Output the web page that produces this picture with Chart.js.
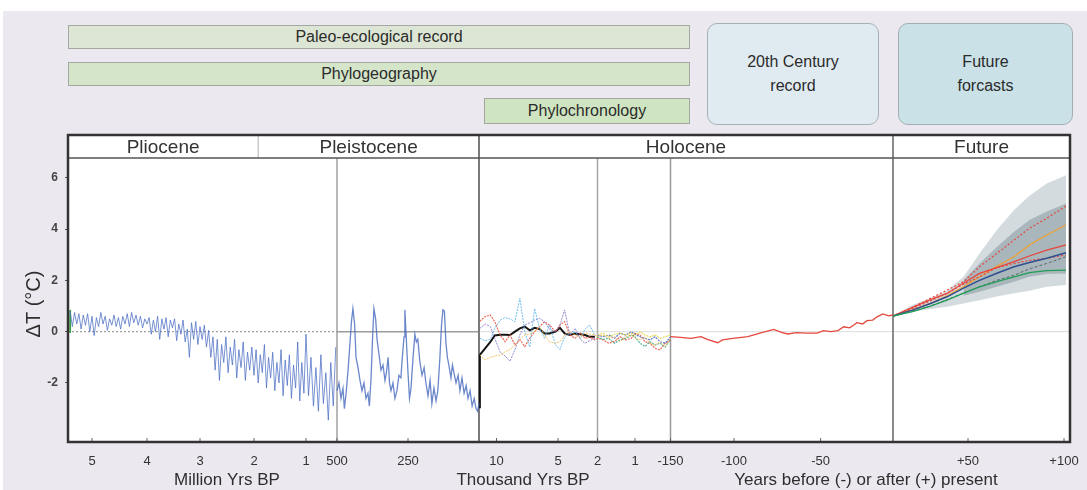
<!DOCTYPE html>
<html><head><meta charset="utf-8">
<script src="https://cdn.jsdelivr.net/npm/chart.js@4.4.1/dist/chart.umd.min.js"></script>
<style>
html,body{margin:0;padding:0;background:#fff;width:1087px;height:490px;overflow:hidden;font-family:"Liberation Sans",Arial,Helvetica,sans-serif;}
#bg{position:absolute;left:3px;top:11px;width:1084px;height:479px;background:#ece8ef;}
#c{position:absolute;left:0;top:0;}
.box{position:absolute;box-sizing:border-box;border:1px solid #a3a9a2;color:#2b2b2b;font-size:16px;display:flex;align-items:center;justify-content:center;text-align:center;line-height:24px;}
</style></head>
<body>
<div id="bg"></div>
<canvas id="c" width="1087" height="490"></canvas>
<div class="box" style="left:68px;top:25px;width:622px;height:24px;background:#dde6d4;">Paleo-ecological record</div>
<div class="box" style="left:68px;top:62px;width:622px;height:24px;background:#d5e5ca;">Phylogeography</div>
<div class="box" style="left:484px;top:98px;width:206px;height:26px;background:#cfe5c1;">Phylochronology</div>
<div class="box" style="left:707px;top:23px;width:172px;height:102px;background:#dfeaf1;border:1.5px solid #a6b0b7;border-radius:10px;">20th Century<br>record</div>
<div class="box" style="left:898px;top:23px;width:175px;height:102px;background:#c9e1e7;border:1.5px solid #a3aeb3;border-radius:10px;">Future<br>forcasts</div>
<script>
// ---------------- DATA ----------------
// Pliocene–Pleistocene benthic stack (ages in Myr BP)
const blueMyrStart = 5.40, blueMyrStep = 0.04;
const blueMyrTemps = [
 0.8,0.2,0.75,0.3,0.7,0.1,0.65,0.25,0.7,0.0,0.6,-0.15,0.55,0.2,0.75,0.3,0.6,0.05,0.5,0.25,0.65,0.2,0.55,0.1,0.6,0.3,0.7,0.2,0.75,0.35,0.65,0.25,0.6,0.15,0.5,0.3,
 0.55,-0.1,0.45,0.0,0.6,-0.3,0.5,0.1,0.55,-0.2,0.45,0.15,0.5,-0.35,0.3,-0.1,0.45,-0.4,0.1,-1.0,0.35,-0.3,0.4,-0.5,0.2,
 -0.3,0.25,-0.6,0.05,-1.0,-0.2,-1.5,-0.3,-1.9,-0.5,-1.2,-0.2,-1.6,-0.6,-1.3,-0.3,-1.8,-0.7,-1.4,-0.4,-1.9,-0.8,-1.5,-0.6,-1.7,
 -0.7,-2.0,-0.9,-1.6,-0.5,-2.2,-1.0,-1.8,-0.8,-2.3,-1.2,-2.0,-0.7,-2.5,-1.1,-2.1,-0.9,-2.6,-1.3,-2.2,-0.4,-2.7,-1.2,-2.4,-0.1,
 -2.5,-1.0,-2.9,-1.4,-3.1,-0.9,-2.8,-1.6,-3.45,-1.2,-2.9,-0.6
];
// Late Pleistocene glacial cycles (ages in kyr BP)
const pleistAgesKyr = [500,493,486,479,474,468,461,454,449,444,438,433,426,419,412,405,398,391,386,380,375,370,364,359,352,345,338,331,326,320,315,310,303,296,289,282,275,270,264,261,255,250,245,240,233,227,222,217,210,203,196,190,183,176,170,163,156,150,143,138,133,128,123,118,113,106,101,96,89,82,76,69,62,55,49,42,35,28,22,17,12];
const pleistTemps = [-2.3,-2.0,-2.6,-2.2,-3.0,-2.4,-1.5,-0.4,0.4,0.9,0.3,-1.0,-1.4,-1.9,-2.3,-2.0,-2.6,-2.4,-2.9,-1.8,-0.3,0.9,0.5,-0.3,-0.9,-1.5,-1.3,-1.9,-1.6,-1.0,-2.0,-2.3,-2.0,-2.6,-2.3,-1.7,-1.8,-1.0,-0.2,0.85,-0.5,-1.6,-2.6,-2.2,-1.0,-0.1,-0.4,-0.3,-1.2,-1.7,-1.4,-2.0,-2.5,-1.9,-2.8,-2.2,-2.7,-2.3,-1.0,0.2,0.85,0.8,-0.4,-1.0,-1.3,-1.8,-1.3,-1.6,-2.0,-1.7,-2.3,-1.8,-2.4,-2.1,-2.6,-2.3,-2.9,-2.6,-3.0,-3.1,-2.8];
// Holocene proxy records (ages in kyr BP)
const holoEarlyAges = [11.9,11.3,10.7,10.2,9.7,9.3,8.9,8.5,8.1,7.7,7.3,6.9,6.5,6.1,5.7,5.2,4.85,4.5,4.1,3.7,3.3,2.95,2.6,2.2];
const holoLateAges = [2.0,1.85,1.7,1.55,1.4,1.25,1.1,1.0,0.88,0.76,0.64,0.52,0.40,0.28,0.15];
const proxyRed = [0.4,0.59,0.65,0.39,-0.13,-0.39,-0.13,-0.52,-0.32,-0.58,-0.26,0.0,0.2,0.39,0.26,0.0,0.26,0.39,-0.13,-0.26,-0.06,-0.26,-0.2,-0.32,
 -0.26,-0.32,-0.45,-0.39,-0.2,-0.32,-0.26,-0.06,-0.13,-0.39,-0.45,-0.65,-0.71,-0.45,-0.32];
const proxyOrange = [-0.91,-1.1,-1.0,-0.95,-0.91,-0.78,-0.7,-0.52,-0.3,-0.13,-0.1,0.0,0.2,-0.13,-0.39,-0.45,-0.39,-0.13,0.0,-0.13,-0.2,-0.06,-0.1,-0.13,
 -0.2,-0.13,-0.26,-0.2,-0.39,-0.2,-0.13,-0.26,-0.32,-0.2,-0.45,-0.52,-0.39,-0.58,-0.26];
const proxyCyan = [-0.26,-0.35,-0.3,0.13,0.45,0.55,0.5,0.39,1.3,0.0,-0.6,0.9,0.13,-0.26,0.26,-0.52,-0.7,-0.2,-0.06,0.0,-0.26,0.1,0.26,-0.13];
const proxyPurple = [0.13,0.3,0.2,-0.26,-0.8,-0.95,-1.15,-0.7,-0.13,0.26,0.35,0.45,0.52,0.39,0.1,0.0,0.26,0.85,-0.13,0.13,-0.3,-0.45,-0.35,-0.26];
const proxyYellow = [-0.13,-0.06,-0.2,-0.1,-0.06,-0.13,-0.06,-0.13,0.0,-0.13,-0.2,-0.13,-0.26,-0.2,-0.13];
const proxyTeal = [-0.2,-0.3,-0.26,-0.45,-0.32,-0.26,-0.13,-0.2,-0.45,-0.58,-0.39,-0.52,-0.45,-0.6,-0.3];
const proxyBlue = [-0.13,-0.2,-0.13,-0.26,-0.06,-0.13,0.0,-0.1,-0.2,-0.26,-0.32,-0.2,-0.39,-0.45,-0.2];
const meanAges = [12.0,11.9,11.3,10.7,10.2,9.7,9.3,8.9,8.5,8.1,7.7,7.3,6.9,6.5,6.1,5.7,5.2,4.85,4.5,4.1,3.7,3.3,2.95,2.6,2.2];
const meanTemps = [-2.95,-0.9,-0.65,-0.4,-0.15,-0.12,-0.12,-0.13,0.0,0.13,0.2,0.05,0.15,0.1,-0.07,-0.07,0.0,0.15,-0.07,-0.13,-0.07,-0.1,-0.13,-0.2,-0.2];
// Instrumental record (years relative to present)
const instrYears = [-150,-142,-134,-126,-121,-113,-109,-101,-92,-85,-77,-73,-69,-64,-58,-52,-48,-43,-38,-34,-30,-27,-25,-21,-18,-14,-11,-7,-3,0];
const instrTemps = [-0.19,-0.22,-0.26,-0.19,-0.3,-0.43,-0.32,-0.26,-0.19,-0.06,0.09,-0.02,-0.09,-0.04,-0.06,-0.06,0.04,0.0,0.04,0.19,0.15,0.26,0.35,0.3,0.43,0.45,0.58,0.69,0.62,0.65];
// Future projections (years after present)
const futYears = [0,13,25,36,47,56,65,74,82,91,101];
const futRedHigh = [0.61,0.95,1.3,1.62,1.95,2.53,3.05,3.57,4.03,4.42,4.9];
const futOrange = [0.61,0.85,1.1,1.4,1.75,2.14,2.55,2.92,3.38,3.77,4.16];
const futRedMid = [0.61,0.95,1.25,1.49,1.9,2.27,2.5,2.73,2.95,3.18,3.38];
const futRedLow = [0.61,0.9,1.2,1.5,1.85,2.14,2.5,2.66,2.78,2.86,2.99];
const futBlue = [0.61,0.84,1.1,1.36,1.7,2.0,2.28,2.53,2.7,2.86,3.08];
const futGrey = [0.61,0.8,1.0,1.25,1.5,1.75,2.0,2.2,2.45,2.66,2.92];
const futGreen = [0.61,0.78,1.0,1.23,1.5,1.75,1.95,2.14,2.3,2.38,2.4];
const outerHigh = [0.61,1.04,1.3,1.6,2.14,3.05,3.96,4.74,5.3,5.78,6.1];
const outerLow = [0.61,0.78,0.88,0.97,1.1,1.23,1.37,1.5,1.6,1.75,1.82];
const innerYears = [47,56,65,74,82,91,101];
const innerHigh = [2.0,2.66,3.3,3.9,4.35,4.68,5.0];
const innerLow = [1.4,1.56,1.75,1.95,2.14,2.25,2.27];
// Tick labels
const myrTicks = [5,4,3,2,1];
const kyrTicks = [500,250,10,5,2,1];
const yrTicks = [-150,-100,-50,50,100];
const yTicks = [6,4,2,0,-2];

// ---------------- BROKEN-AXIS LAYOUT (axis units) ----------------
const myrAnchors = [5.44,5,4,3,2,1,0.5],  myrPos = [0,24,79,132,186,238,269];
const kyrAnchors = [500,250,12,10,5,2,1,0.15], kyrPos = [269,340,411,428.5,490,529.5,567,602.5];
const yrAnchors = [-150,-100,-50,0,50,100,103], yrPos = [602.5,666,752.6,825,900,996,1002];
function interp(v, xs, ys){
  for(let i=0;i<xs.length-1;i++){
    const a=xs[i], b=xs[i+1];
    if((v>=Math.min(a,b) && v<=Math.max(a,b)) || i===xs.length-2){
      return ys[i] + (v-a)/(b-a)*(ys[i+1]-ys[i]);
    }
  }
}
const posMyr = v => interp(v, myrAnchors, myrPos);
const posKyr = v => interp(v, kyrAnchors, kyrPos);
const posYr  = v => interp(v, yrAnchors, yrPos);
const pts = (ages, vals, f) => vals.map((v,i)=>({x:f(ages[i]), y:v}));

const blueMyrAges = blueMyrTemps.map((_,i)=>+(blueMyrStart - i*blueMyrStep).toFixed(2));

const tickPos = [], tickLab = [];
myrTicks.forEach(v=>{tickPos.push(posMyr(v)); tickLab.push(String(v));});
kyrTicks.forEach(v=>{tickPos.push(posKyr(v)); tickLab.push(String(v));});
yrTicks.forEach(v=>{tickPos.push(posYr(v)); tickLab.push(v>0?'+'+v:String(v));});

const FONT = '"Liberation Sans", Arial, Helvetica, sans-serif';
Chart.defaults.font.family = FONT;

function line(data, color, w, dash, order){
  return {data, borderColor:color, borderWidth:w, borderDash:dash||[], pointRadius:0, fill:false, tension:0, order:order||0};
}

const datasets = [
  {data:pts(futYears,outerHigh,posYr), borderWidth:0, pointRadius:0, fill:1, backgroundColor:'#d3dbde', order:10},
  {data:pts(futYears,outerLow,posYr), borderWidth:0, pointRadius:0, fill:false, order:10},
  {data:pts(innerYears,innerHigh,posYr), borderWidth:0, pointRadius:0, fill:3, backgroundColor:'#a9b7bc', order:9},
  {data:pts(innerYears,innerLow,posYr), borderWidth:0, pointRadius:0, fill:false, order:9},
  line(pts(blueMyrAges, blueMyrTemps, posMyr), 'rgba(75,110,195,0.75)', 1),
  line(pts(pleistAgesKyr, pleistTemps, posKyr), 'rgba(70,105,190,0.8)', 1.3),
  line([{x:posMyr(5.40),y:-0.05},{x:posMyr(5.40),y:0.85}], '#3fa14a', 1.8),
  line(pts(holoEarlyAges.concat(holoLateAges), proxyOrange, posKyr), 'rgba(245,185,80,0.85)', 1, [2,1]),
  line(pts(holoEarlyAges, proxyCyan, posKyr), 'rgba(90,180,235,0.85)', 1, [2,1]),
  line(pts(holoEarlyAges, proxyPurple, posKyr), 'rgba(120,110,200,0.8)', 1, [2,1]),
  line(pts(holoLateAges, proxyYellow, posKyr), 'rgba(225,215,70,0.9)', 1.2, [2,1]),
  line(pts(holoLateAges, proxyTeal, posKyr), 'rgba(60,170,140,0.85)', 1.2, [2,1]),
  line(pts(holoLateAges, proxyBlue, posKyr), 'rgba(60,90,200,0.8)', 1.2, [2,1]),
  line(pts(holoEarlyAges.concat(holoLateAges), proxyRed, posKyr), 'rgba(235,80,60,0.85)', 1.2, [2,1]),
  line(pts(meanAges, meanTemps, posKyr), '#151515', 2),
  line(pts(instrYears, instrTemps, posYr), '#e5483e', 1.3),
  line(pts(futYears, futGreen, posYr), '#1f9d55', 1.3),
  line(pts(futYears, futGrey, posYr), '#606870', 1, [3,2]),
  line(pts(futYears, futBlue, posYr), '#2f4f8f', 1.5),
  line(pts(futYears, futRedLow, posYr), '#e8453c', 1.2, [2,2]),
  line(pts(futYears, futRedMid, posYr), '#e8453c', 1.3),
  line(pts(futYears, futOrange, posYr), '#f0a030', 1.3),
  line(pts(futYears, futRedHigh, posYr), '#e8453c', 1.2, [2,2]),
];

const HEADER_TOP = 135;
const decor = {
  id:'decor',
  beforeDraw(chart){
    const c=chart.ctx, a=chart.chartArea;
    c.save(); c.fillStyle='#fff'; c.fillRect(a.left, HEADER_TOP, a.right-a.left, a.bottom-HEADER_TOP); c.restore();
  },
  beforeDatasetsDraw(chart){
    const c=chart.ctx, a=chart.chartArea, xs=chart.scales.x, ys=chart.scales.y;
    const X=v=>xs.getPixelForValue(v), y0=ys.getPixelForValue(0);
    c.save();
    const hseg=(p1,p2,col,w,dash)=>{c.beginPath();c.setLineDash(dash||[]);c.strokeStyle=col;c.lineWidth=w;c.moveTo(X(p1),y0);c.lineTo(X(p2),y0);c.stroke();};
    hseg(posMyr(5.44), posMyr(0.5), '#8a8a8a', 1, [2,2]);
    hseg(posKyr(500), posKyr(12), '#9c9c9c', 1.5);
    hseg(posKyr(12), posYr(0), '#dcdcdc', 1);
    hseg(posYr(0), posYr(103), '#d8d8d8', 1);
    c.setLineDash([]);
    const vline=(p,top,col,w)=>{c.beginPath();c.strokeStyle=col;c.lineWidth=w;c.moveTo(X(p),top);c.lineTo(X(p),a.bottom);c.stroke();};
    vline(posMyr(0.5), a.top, '#a0a0a0', 1.5);
    vline(posKyr(2), a.top, '#a8a8a8', 1.5);
    vline(posKyr(0.15), a.top, '#999', 1.5);
    vline(posKyr(12), HEADER_TOP, '#7a7a7a', 2);
    vline(posYr(0), HEADER_TOP, '#8a8a8a', 2);
    c.beginPath(); c.strokeStyle='#b0b0b0'; c.lineWidth=1; c.moveTo(X(posMyr(1.92)),HEADER_TOP); c.lineTo(X(posMyr(1.92)),a.top); c.stroke();
    c.restore();
  },
  afterDraw(chart){
    const c=chart.ctx, a=chart.chartArea, xs=chart.scales.x;
    c.save();
    c.beginPath(); c.strokeStyle='#555'; c.lineWidth=1.5; c.moveTo(a.left,a.top); c.lineTo(a.right,a.top); c.stroke();
    c.fillStyle='#333'; c.font='19px '+FONT; c.textAlign='center'; c.textBaseline='middle';
    const mid=(p1,p2)=>(xs.getPixelForValue(p1)+xs.getPixelForValue(p2))/2;
    c.fillText('Pliocene', mid(0,posMyr(1.92)), 148);
    c.fillText('Pleistocene', mid(posMyr(1.92),posKyr(12)), 148);
    c.fillText('Holocene', mid(posKyr(12),posYr(0)), 148);
    c.fillText('Future', mid(posYr(0),posYr(103)), 148);
    c.strokeStyle='#666'; c.lineWidth=1;
    tickPos.forEach(p=>{const x=xs.getPixelForValue(p); c.beginPath(); c.moveTo(x,a.bottom); c.lineTo(x,a.bottom-4); c.stroke();});
    c.strokeStyle='#333'; c.lineWidth=2.5; c.strokeRect(a.left, HEADER_TOP, a.right-a.left, a.bottom-HEADER_TOP);
    c.fillStyle='#2e2e2e'; c.font='17px '+FONT; c.textBaseline='middle';
    c.fillText('Million Yrs BP', 227, 480);
    c.fillText('Thousand Yrs BP', 523, 480);
    c.fillText('Years before (-) or after (+) present', 866, 480);
    c.translate(34, 304); c.rotate(-Math.PI/2);
    c.font='20px '+FONT; c.fillStyle='#2e2e2e';
    c.fillText('\u0394T (\u00B0C)', 0, 0);
    c.restore();
  }
};

new Chart(document.getElementById('c'), {
  type:'line',
  data:{datasets},
  options:{
    responsive:false, animation:false, devicePixelRatio:1,
    layout:{padding:{top:158, right:17, left:0, bottom:0}},
    plugins:{legend:{display:false}, tooltip:{enabled:false}},
    elements:{line:{borderCapStyle:'butt'}},
    scales:{
      x:{type:'linear', min:0, max:1002,
         afterFit:s=>{s.height=48; s.paddingLeft=0; s.paddingRight=0;},
         afterBuildTicks:s=>{s.ticks=tickPos.map(v=>({value:v}));},
         grid:{display:false, drawTicks:false}, border:{display:false},
         ticks:{autoSkip:false, maxRotation:0, padding:12, color:'#333', font:{size:13},
                callback:(v,i)=>tickLab[i]}},
      y:{type:'linear', min:-4.3, max:6.77,
         afterFit:s=>{s.width=68; s.paddingTop=0; s.paddingBottom=0;},
         afterBuildTicks:s=>{s.ticks=yTicks.map(v=>({value:v}));},
         grid:{drawOnChartArea:false, tickLength:3, color:'#555'}, border:{display:false},
         ticks:{padding:7, color:'#444', font:{size:12, weight:'bold'}, callback:v=>String(v)}}
    }
  },
  plugins:[decor]
});
</script>
</body></html>
